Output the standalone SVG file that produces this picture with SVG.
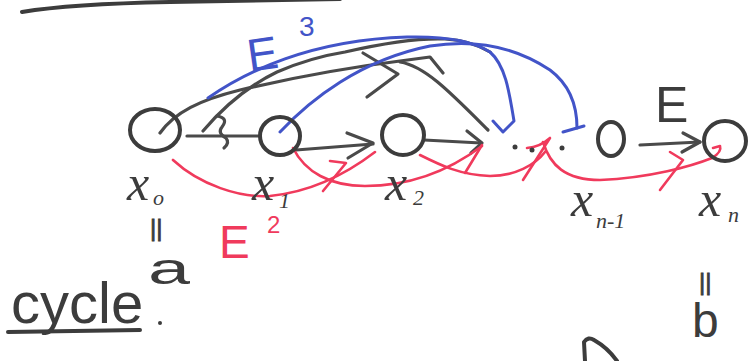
<svg xmlns="http://www.w3.org/2000/svg" width="749" height="361" viewBox="0 0 749 361">
<style>
.nd{fill:none;stroke:#3c3c3c;stroke-width:4;stroke-linecap:round;stroke-linejoin:round}
.bk{fill:none;stroke:#4a4a4a;stroke-width:3.2;stroke-linecap:round;stroke-linejoin:round}
.bl{fill:none;stroke:#4254c8;stroke-width:3;stroke-linecap:round;stroke-linejoin:round}
.rd{fill:none;stroke:#f03a5c;stroke-width:2.6;stroke-linecap:round;stroke-linejoin:round}
.lb{font-family:"Liberation Serif",serif;font-style:italic;fill:#3c3c3c}
.tx{font-family:"Liberation Sans",sans-serif;fill:#3c3c3c}
</style>
<rect width="749" height="361" fill="#fff"/>
<path class="nd" d="M22,12 Q70,4 170,2 L340,-1"/>
<g id="connectors">
<path class="bk" d="M187,136 L258,136"/>
<path class="bk" d="M217,116 Q229,118 222,127 Q217,133 226,138 Q230,143 224,148"/>
<path class="bk" d="M296,150 L373,144"/>
<path class="bk" d="M347,133 L373,143 L348,158"/>
<path class="bk" d="M424,140 L481,143"/>
<path class="bk" d="M467,131 L482,143 L471,153"/>
<path class="bk" d="M640,145 L700,142"/>
<path class="bk" d="M683,133 L700,142 L682,152"/>
<path class="bk" d="M160,133 C175,112 200,100 240,90 C300,76 360,66 400,61 L430,57 L443,73"/>
<path class="bk" d="M363,53 L398,74 L367,97"/>
<path class="bk" d="M400,62 C425,66 450,92 488,130"/>
<path class="bk" d="M203,131 C225,105 250,85 277,72 C300,62 320,56 345,52 C380,44 420,38 445,39 C465,40 480,46 490,52"/>
<path class="bl" d="M208,98 C245,72 310,40 407,37 C450,36 475,42 490,52 C505,65 509,90 514,121 L503,132 L493,121"/>
<path class="bl" d="M280,132 C310,100 360,60 430,46 C480,38 520,50 550,70 C570,85 577,105 577,128"/>
<path class="bl" d="M563,132 L584,126"/>
<path class="rd" d="M173,160 C200,185 240,198 270,196 C310,192 345,175 375,152"/>
<path class="rd" d="M330,161 L346,163 L323,191"/>
<path class="rd" d="M293,148 C305,172 330,186 365,186 C410,186 450,170 482,146"/>
<path class="rd" d="M482,145 L465,173"/>
<path class="rd" d="M420,155 C440,165 460,175 490,176 C515,176 535,165 545,152"/>
<path class="rd" d="M527,148 Q540,147 550,138 L523,180"/>
<path class="rd" d="M543,142 C550,165 565,180 600,180 C650,178 692,166 712,158 Q722,152 720,146 L713,148"/>
<path class="rd" d="M670,152 L683,160 L660,190"/>
</g>
<g id="node-x0">
<ellipse class="nd" cx="155" cy="130" rx="25" ry="21"/>
<text class="lb" x="127" y="200" font-size="50">x</text>
<text class="lb" x="153" y="205" font-size="22">o</text>
</g>
<g id="node-x1">
<ellipse class="nd" cx="280" cy="136" rx="20" ry="19"/>
<text class="lb" x="252" y="200" font-size="50">x</text>
<text class="lb" x="279" y="208" font-size="22">1</text>
</g>
<g id="node-x2">
<ellipse class="nd" cx="403" cy="135" rx="21" ry="20"/>
<text class="lb" x="385" y="200" font-size="50">x</text>
<text class="lb" x="413" y="205" font-size="22">2</text>
</g>
<g id="dots">
<circle cx="515" cy="147" r="2.5" fill="#3c3c3c"/>
<circle cx="532" cy="150" r="2.5" fill="#3c3c3c"/>
<circle cx="562" cy="148" r="2.5" fill="#3c3c3c"/>
</g>
<g id="node-xn-1">
<ellipse class="nd" cx="611" cy="139" rx="13" ry="17"/>
<text class="lb" x="571" y="216" font-size="50">x</text>
<text class="lb" x="596" y="228" font-size="22">n-1</text>
</g>
<g id="node-xn">
<ellipse class="nd" cx="725" cy="141" rx="21" ry="20"/>
<text class="lb" x="699" y="216" font-size="50">x</text>
<text class="lb" x="728" y="222" font-size="22">n</text>
</g>
<text x="247" y="69" font-family="Liberation Sans,sans-serif" font-size="46" fill="#4254c8" transform="rotate(-8 268 52)">E</text>
<text x="299" y="36" font-family="Liberation Sans,sans-serif" font-size="28" fill="#4254c8">3</text>
<text x="219" y="258" font-family="Liberation Sans,sans-serif" font-size="46" fill="#f03a5c">E</text>
<text x="267" y="233" font-family="Liberation Sans,sans-serif" font-size="24" fill="#f03a5c">2</text>
<text class="tx" x="655" y="122" font-size="50">E</text>
<text class="tx" x="150" y="236" font-size="24" stroke="#3c3c3c" stroke-width="0.8">||</text>
<text class="tx" x="148" y="284" font-size="44" textLength="42" lengthAdjust="spacingAndGlyphs">a</text>
<text class="tx" x="699" y="290" font-size="24" stroke="#3c3c3c" stroke-width="0.8">||</text>
<text class="tx" x="692" y="337" font-size="48">b</text>
<text class="tx" x="11" y="323" font-size="58">cycle</text>
<path class="nd" d="M8,332 L140,330"/>
<circle cx="160" cy="323" r="2" fill="#3c3c3c"/>
<path class="nd" d="M585,361 L584,342 Q588,336 594,340 Q608,348 617,361"/>
</svg>
